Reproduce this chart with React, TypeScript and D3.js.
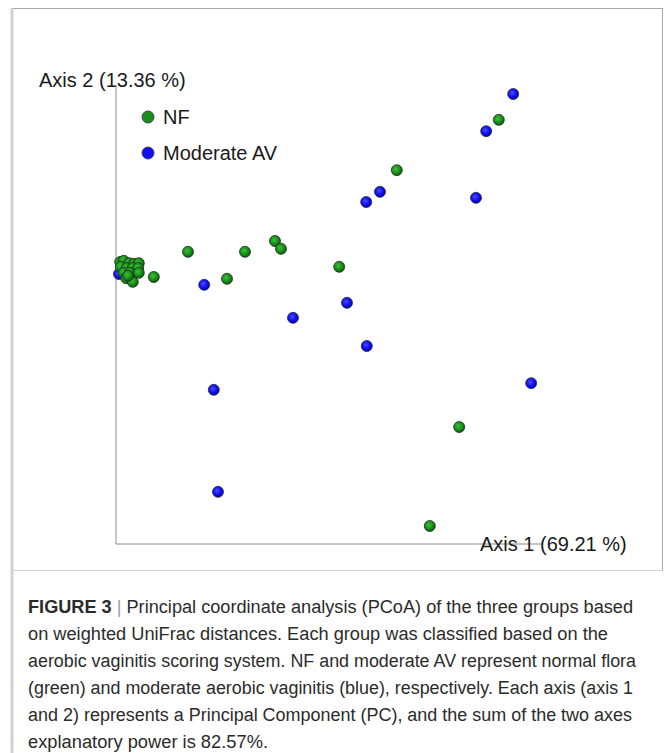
import React from "react";
import * as d3 from "d3";

// PCoA coordinates (weighted UniFrac), axis 1 and axis 2
const nfX = [0.388, 0.218, -0.13, -0.035, 0.015, 0.025, 0.122, -0.065, -0.187, 0.322, 0.273,
  -0.243, -0.237, -0.228, -0.22, -0.212, -0.242, -0.232, -0.222, -0.213, -0.237, -0.227, -0.212, -0.233, -0.222, -0.23];
const nfY = [0.407, 0.323, 0.187, 0.187, 0.205, 0.192, 0.162, 0.142, 0.145, -0.105, -0.27,
  0.17, 0.172, 0.168, 0.167, 0.168, 0.162, 0.16, 0.16, 0.16, 0.152, 0.152, 0.152, 0.143, 0.137, 0.147];

const avX = [0.412, 0.367, 0.19, 0.167, 0.35, -0.103, 0.135, 0.045, 0.168, 0.442, -0.087, -0.08, -0.245, -0.222];
const avY = [0.45, 0.388, 0.287, 0.27, 0.277, 0.132, 0.102, 0.077, 0.03, -0.032, -0.043, -0.213, 0.15, 0.152];

const groupNames = ["NF", "Moderate AV"];
const axisLabels = ["Axis 1 (69.21 %)", "Axis 2 (13.36 %)"];

const captionLines = [
  "Principal coordinate analysis (PCoA) of the three groups based",
  "on weighted UniFrac distances. Each group was classified based on the",
  "aerobic vaginitis scoring system. NF and moderate AV represent normal flora",
  "(green) and moderate aerobic vaginitis (blue), respectively. Each axis (axis 1",
  "and 2) represents a Principal Component (PC), and the sum of the two axes",
  "explanatory power is 82.57%.",
];
const captionWidths = [605, 580, 608, 605, 604, 240];

const W = 665;
const H = 753;
const plot = { left: 116, right: 543, top: 85, bottom: 544 };

const x = d3.scaleLinear().domain([-0.25, 0.4617]).range([plot.left, plot.right]);
const y = d3.scaleLinear().domain([-0.3, 0.465]).range([plot.bottom, plot.top]);

const FONT = "'Liberation Sans', Arial, sans-serif";
const CAPTION_FONT = "'Liberation Sans Narrow', 'Liberation Sans', Arial, sans-serif";

export default function App() {
  const nf = nfX.map((v, i) => ({ x: v, y: nfY[i] }));
  const av = avX.map((v, i) => ({ x: v, y: avY[i] }));
  const r = 5.5;

  return (
    <svg width={W} height={H} style={{ position: "absolute", left: 0, top: 0, background: "#fff" }}>
      <defs>
        <radialGradient id="gGreen" cx="0.42" cy="0.4" r="0.6">
          <stop offset="0" stopColor="#3cc03c" />
          <stop offset="0.55" stopColor="#1a931a" />
          <stop offset="1" stopColor="#0b5c0b" />
        </radialGradient>
        <radialGradient id="gBlue" cx="0.42" cy="0.4" r="0.6">
          <stop offset="0" stopColor="#4d4dff" />
          <stop offset="0.55" stopColor="#1212f5" />
          <stop offset="1" stopColor="#0000b0" />
        </radialGradient>
      </defs>

      {/* figure frame */}
      <line x1={12} x2={662} y1={8.5} y2={8.5} stroke="#a6a6a6" strokeWidth={1} />
      <line x1={662.5} x2={662.5} y1={8} y2={570} stroke="#a6a6a6" strokeWidth={1} />
      <line x1={12} x2={12} y1={8} y2={H} stroke="#d2d2d2" strokeWidth={3} />
      <line x1={12} x2={663} y1={570.5} y2={570.5} stroke="#d2d2d2" strokeWidth={1} />

      {/* axes */}
      <line x1={plot.left} x2={plot.left} y1={plot.top} y2={plot.bottom} stroke="#8c8c8c" strokeWidth={1} />
      <line x1={plot.left} x2={plot.right} y1={plot.bottom} y2={plot.bottom} stroke="#8c8c8c" strokeWidth={1} />

      <text x={39} y={87} fontFamily={FONT} fontSize={20} fill="#1a1a1a">{axisLabels[1]}</text>
      <text x={480} y={551} fontFamily={FONT} fontSize={20} fill="#1a1a1a">{axisLabels[0]}</text>

      {/* points */}
      {av.map((d, i) => (
        <circle key={"a" + i} cx={x(d.x)} cy={y(d.y)} r={r} fill="url(#gBlue)" stroke="#2a2a40" strokeWidth={0.8} />
      ))}
      {nf.map((d, i) => (
        <circle key={"n" + i} cx={x(d.x)} cy={y(d.y)} r={r} fill="url(#gGreen)" stroke="#1f2f1f" strokeWidth={0.8} />
      ))}

      {/* legend */}
      {groupNames.map((g, i) => (
        <g key={g} transform={`translate(148, ${117 + i * 36})`}>
          <circle r={6} fill={i === 0 ? "#1a8f1a" : "#1010f0"} stroke="#3a4060" strokeWidth={1} />
          <text x={15} y={7} fontFamily={FONT} fontSize={20} fill="#1a1a1a">{g}</text>
        </g>
      ))}

      {/* caption */}
      {captionLines.map((line, i) => (
        <text
          key={i}
          x={28}
          y={613 + i * 27}
          fontFamily={CAPTION_FONT}
          fontSize={18}
          fill="#2b2b2b"
          textLength={captionWidths[i]}
          lengthAdjust="spacingAndGlyphs"
        >
          {i === 0 ? (
            <>
              <tspan fontWeight="bold" fontFamily={FONT}>FIGURE 3</tspan>
              <tspan fill="#9a9a9a"> | </tspan>
              <tspan>{line}</tspan>
            </>
          ) : (
            line
          )}
        </text>
      ))}
    </svg>
  );
}
